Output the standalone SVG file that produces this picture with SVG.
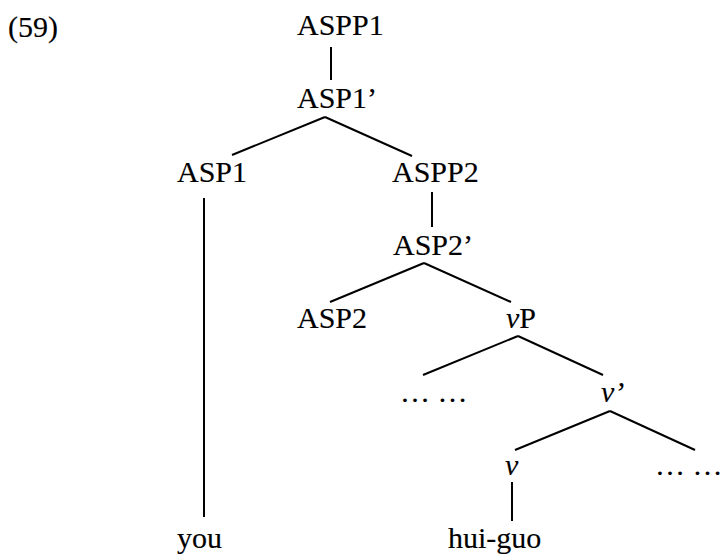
<svg xmlns="http://www.w3.org/2000/svg" width="722" height="558" viewBox="0 0 722 558">
<style>
text{font-family:"Liberation Serif","Times New Roman",Times,serif;font-size:30px;fill:#000;stroke:#000;stroke-width:0.15}
.i{font-style:italic}
line{stroke:#000;stroke-width:2}
</style>
<rect width="722" height="558" fill="#fff"/>
<text x="8" y="37">(59)</text>
<g id="connectors">
<line x1="331" y1="47" x2="331" y2="80"/>
<line x1="325" y1="117" x2="232" y2="155"/>
<line x1="325" y1="117" x2="412" y2="156"/>
<line x1="204" y1="198" x2="204" y2="517"/>
<line x1="432" y1="192" x2="432" y2="227"/>
<line x1="424" y1="263" x2="330" y2="302"/>
<line x1="424" y1="263" x2="511" y2="302"/>
<line x1="518" y1="336" x2="423" y2="375"/>
<line x1="518" y1="336" x2="603" y2="375"/>
<line x1="610" y1="411" x2="515" y2="450"/>
<line x1="610" y1="411" x2="695" y2="450"/>
<line x1="512" y1="482" x2="512" y2="521"/>
</g>
<g id="ASPP1"><text x="297" y="35">ASPP1</text></g>
<g id="ASP1bar"><text x="297" y="108">ASP1’</text></g>
<g id="ASP1"><text x="177" y="182">ASP1</text></g>
<g id="ASPP2"><text x="392" y="182">ASPP2</text></g>
<g id="ASP2bar"><text x="393" y="255">ASP2’</text></g>
<g id="ASP2"><text x="297" y="328">ASP2</text></g>
<g id="vP"><text x="506" y="328"><tspan class="i">v</tspan>P</text></g>
<g id="dots1"><text x="400" y="402">… …</text></g>
<g id="vbar"><text x="601" y="402" class="i">v’</text></g>
<g id="v"><text x="505" y="475" class="i">v</text></g>
<g id="dots2"><text x="655" y="475">… …</text></g>
<g id="you"><text x="177" y="548">you</text></g>
<g id="huiguo"><text x="448" y="548">hui-guo</text></g>
</svg>
